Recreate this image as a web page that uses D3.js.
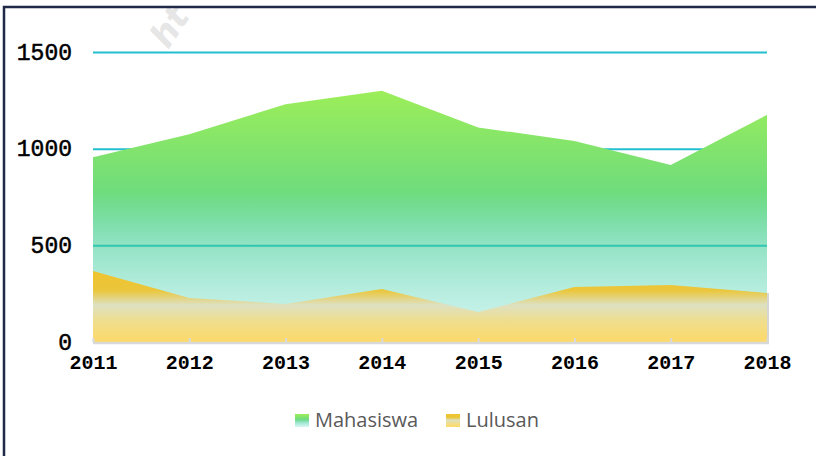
<!DOCTYPE html>
<html>
<head>
    <meta charset="utf-8">
    <title>Mahasiswa dan Lulusan 2011-2018</title>
    <script src="https://d3js.org/d3.v7.min.js"></script>
    <style>
        body { margin: 0; background: #fff; }
        svg { display: block; }
        .y-label {
            font-family: "Liberation Mono", monospace;
            font-size: 23px;
            fill: #000;
            stroke: #000;
            stroke-width: 0.5px;
        }
        .x-label {
            font-family: "Liberation Mono", monospace;
            font-weight: bold;
            font-size: 20px;
            fill: #000;
        }
        .legend-label {
            font-family: "Open Sans", sans-serif;
            font-size: 20px;
            fill: #595959;
        }
        .watermark {
            font-family: "DejaVu Sans", sans-serif;
            font-weight: bold;
            font-style: italic;
            font-size: 34px;
            fill: #e6e6e6;
        }
    </style>
</head>
<body>
    <div id="chart"></div>
    <script>
        // data
        const years = ['2011', '2012', '2013', '2014', '2015', '2016', '2017', '2018'];
        const mahasiswa = [955, 1075, 1230, 1300, 1110, 1040, 915, 1175];
        const lulusan = [367, 228, 197, 274, 155, 285, 295, 253];
        const yTicks = [0, 500, 1000, 1500];
        const seriesNames = ['Mahasiswa', 'Lulusan'];

        const width = 816;
        const height = 456;
        const margin = { left: 93, right: 49, top: 52, bottom: 114 };

        const svg = d3.select('#chart')
            .append('svg')
            .attr('width', width)
            .attr('height', height);

        const defs = svg.append('defs');

        // green fill, fading to pale cyan (semi transparent lower down)
        const gGreen = defs.append('linearGradient')
            .attr('id', 'grad-green')
            .attr('x1', 0).attr('y1', 0).attr('x2', 0).attr('y2', 1);
        [[0, '#9cee58', 1], [0.4, '#6fdc7c', 1], [0.62, '#3ccc97', 0.55], [1, '#98e8e4', 0.4]]
            .forEach(s => gGreen.append('stop')
                .attr('offset', s[0]).attr('stop-color', s[1]).attr('stop-opacity', s[2]));

        // gold fill with a pale band in the middle
        const gGold = defs.append('linearGradient')
            .attr('id', 'grad-gold')
            .attr('x1', 0).attr('y1', 0).attr('x2', 0).attr('y2', 1);
        [[0, '#efc330'], [0.27, '#ebc63a'], [0.48, '#dde1c2'], [0.69, '#efde90'], [1, '#fdd968']]
            .forEach(s => gGold.append('stop')
                .attr('offset', s[0]).attr('stop-color', s[1]));

        const fills = ['url(#grad-green)', 'url(#grad-gold)'];

        // watermark + frame
        svg.append('text')
            .attr('class', 'watermark')
            .attr('transform', 'translate(168,50) rotate(-56)')
            .text('ht');

        svg.append('path')
            .attr('d', `M4,${height} V7 H${width}`)
            .attr('fill', 'none')
            .attr('stroke', '#1f2a48')
            .attr('stroke-width', 2.5);

        // scales
        const x = d3.scalePoint()
            .domain(years)
            .range([margin.left, width - margin.right]);

        const y = d3.scaleLinear()
            .domain([0, 1500])
            .range([height - margin.bottom, margin.top]);

        // gridlines + y labels
        const yAxis = svg.append('g')
            .attr('transform', `translate(${margin.left},0)`)
            .call(d3.axisLeft(y)
                .tickValues(yTicks)
                .tickSize(-(width - margin.left - margin.right))
                .tickPadding(21)
                .tickFormat(d3.format('d')));
        yAxis.select('.domain').remove();
        yAxis.selectAll('.tick line')
            .attr('stroke', '#22bfd0')
            .attr('stroke-width', 2);
        yAxis.selectAll('.tick text')
            .attr('class', 'y-label')
            .attr('dy', 7);

        // areas
        const area = d3.area()
            .x((d, i) => x(years[i]))
            .y0(y(0))
            .y1(d => y(d));

        svg.append('path')
            .datum(mahasiswa)
            .attr('d', area)
            .attr('fill', fills[0]);

        // small grey edge on the right of the gold area
        svg.append('line')
            .attr('x1', x(years[years.length - 1]) + 1)
            .attr('x2', x(years[years.length - 1]) + 1)
            .attr('y1', y(lulusan[lulusan.length - 1]))
            .attr('y2', y(0))
            .attr('stroke', '#d6d6d6')
            .attr('stroke-width', 2);

        svg.append('path')
            .datum(lulusan)
            .attr('d', area)
            .attr('fill', fills[1]);

        // x axis
        const xAxis = svg.append('g')
            .attr('transform', `translate(0,${y(0) + 1})`)
            .call(d3.axisBottom(x)
                .tickSizeInner(-5)
                .tickSizeOuter(0));
        xAxis.select('.domain')
            .attr('d', `M${margin.left},0 H${width - margin.right + 2}`)
            .attr('stroke', '#d9d9d9')
            .attr('stroke-width', 2.5);
        xAxis.selectAll('.tick line')
            .attr('stroke', '#d9d9d9')
            .attr('stroke-width', 2);
        xAxis.selectAll('.tick text')
            .attr('class', 'x-label')
            .attr('y', 26)
            .attr('dy', 0);

        // legend
        const legend = svg.append('g')
            .attr('transform', 'translate(295,414)');
        const legendX = [0, 151];
        seriesNames.forEach((name, i) => {
            const item = legend.append('g')
                .attr('transform', `translate(${legendX[i]},0)`);
            item.append('rect')
                .attr('width', 14)
                .attr('height', 13)
                .attr('fill', fills[i]);
            item.append('text')
                .attr('class', 'legend-label')
                .attr('x', 20)
                .attr('y', 13)
                .text(name);
        });
    </script>
</body>
</html>
